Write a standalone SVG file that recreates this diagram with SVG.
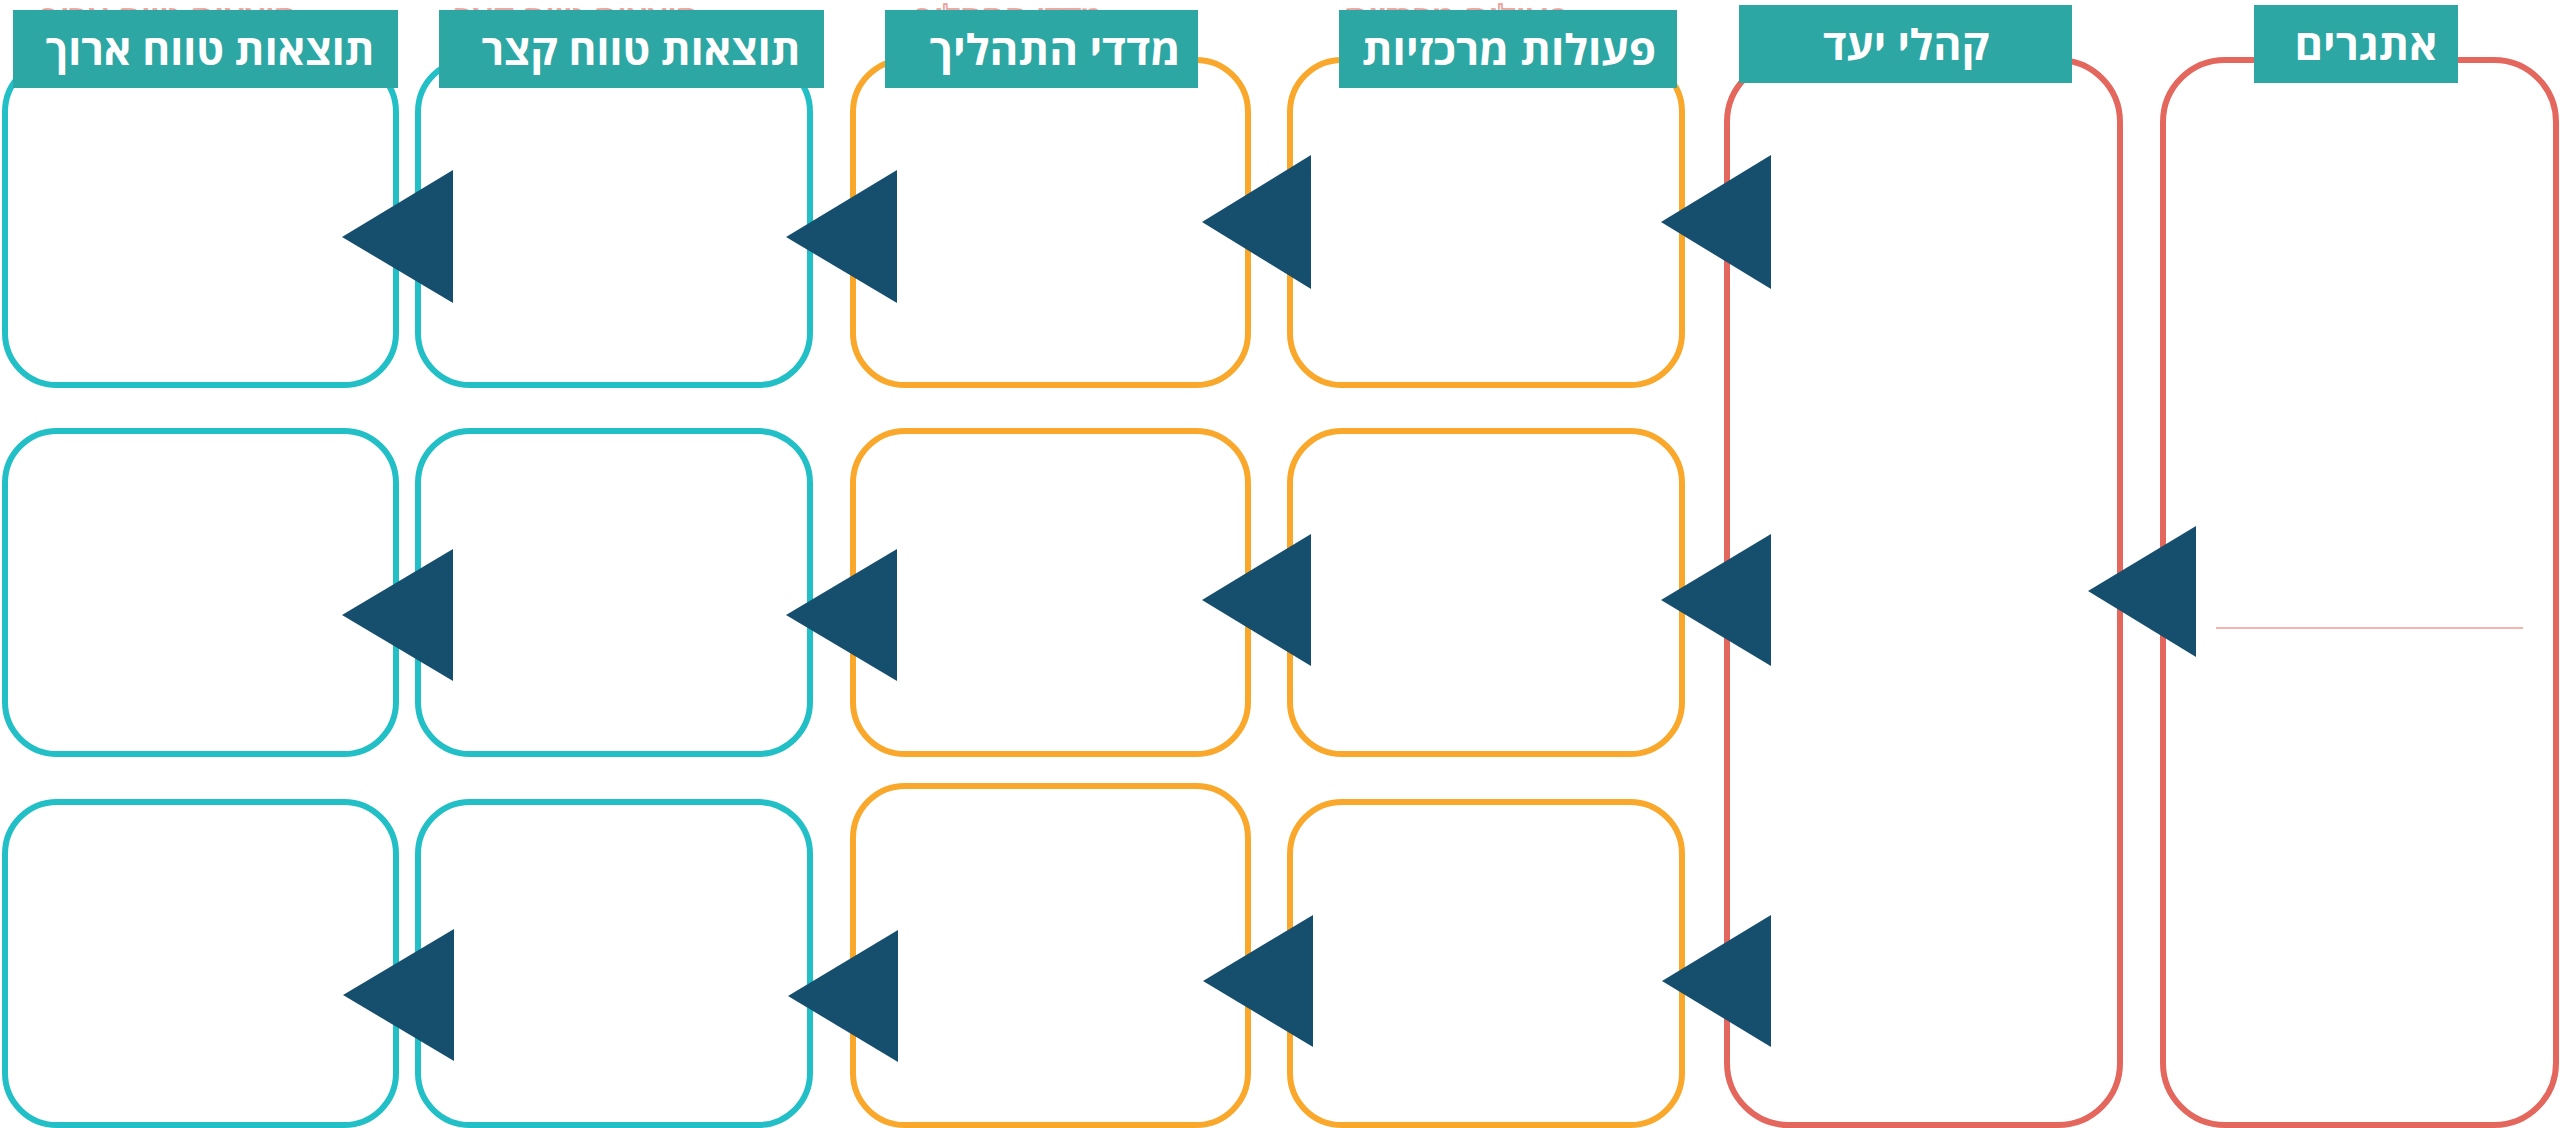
<svg xmlns="http://www.w3.org/2000/svg" width="2560" height="1128" viewBox="0 0 2560 1128">
<style>
.box{fill:#fff;stroke-width:6}
.cy{stroke:#22bfc6}
.or{stroke:#f9a82b}
.rd{stroke:#e4675e}
.hdr{fill:#2da7a4}
.ht{fill:#fff;font-family:"Open Sans","Liberation Sans","DejaVu Sans",sans-serif;font-weight:700;font-size:42px;text-anchor:middle}
.ghost{fill:none;stroke:#ec9a94;stroke-width:1.6;font-family:"Open Sans","Liberation Sans","DejaVu Sans",sans-serif;font-size:38px;text-anchor:middle}
.arr{fill:#164f6e}
</style>
<rect width="2560" height="1128" fill="#fff"/>
<g id="ghost-titles">
<text class="ghost" x="170" y="33" textLength="255" lengthAdjust="spacingAndGlyphs">תוצאות טווח ארוך</text>
<text class="ghost" x="577" y="33" textLength="244" lengthAdjust="spacingAndGlyphs">תוצאות טווח קצר</text>
<text class="ghost" x="1010" y="33" textLength="186" lengthAdjust="spacingAndGlyphs">מדדי התהליך</text>
<text class="ghost" x="1457" y="33" textLength="224" lengthAdjust="spacingAndGlyphs">פעולות מרכזיות</text>
</g>
<g id="col-long">
<rect class="box cy" x="5" y="60" width="391" height="325" rx="52"/>
<rect class="box cy" x="5" y="431" width="391" height="323" rx="52"/>
<rect class="box cy" x="5" y="802" width="391" height="323" rx="52"/>
<rect class="hdr" x="13" y="10" width="385" height="78"/>
<text class="ht" x="210" y="65" textLength="329" lengthAdjust="spacingAndGlyphs">תוצאות טווח ארוך</text>
</g>
<g id="col-short">
<rect class="box cy" x="418" y="60" width="392" height="325" rx="52"/>
<rect class="box cy" x="418" y="431" width="392" height="323" rx="52"/>
<rect class="box cy" x="418" y="802" width="392" height="323" rx="52"/>
<rect class="hdr" x="439" y="10" width="385" height="78"/>
<text class="ht" x="641" y="65" textLength="319" lengthAdjust="spacingAndGlyphs">תוצאות טווח קצר</text>
</g>
<g id="col-process">
<rect class="box or" x="853" y="60" width="395" height="325" rx="52"/>
<rect class="box or" x="853" y="431" width="395" height="323" rx="52"/>
<rect class="box or" x="853" y="786" width="395" height="339" rx="52"/>
<rect class="hdr" x="885" y="10" width="313" height="78"/>
<text class="ht" x="1055" y="65" textLength="251" lengthAdjust="spacingAndGlyphs">מדדי התהליך</text>
</g>
<g id="col-actions">
<rect class="box or" x="1290" y="60" width="392" height="325" rx="52"/>
<rect class="box or" x="1290" y="431" width="392" height="323" rx="52"/>
<rect class="box or" x="1290" y="802" width="392" height="323" rx="52"/>
<rect class="hdr" x="1339" y="10" width="338" height="78"/>
<text class="ht" x="1509" y="65" textLength="294" lengthAdjust="spacingAndGlyphs">פעולות מרכזיות</text>
</g>
<g id="col-audience">
<rect class="box rd" x="1727" y="60" width="393" height="1065" rx="62"/>
<rect class="hdr" x="1739" y="5" width="333" height="78"/>
<text class="ht" x="1906" y="60" textLength="166" lengthAdjust="spacingAndGlyphs">קהלי יעד</text>
</g>
<g id="col-challenges">
<rect class="box rd" x="2163" y="60" width="393" height="1065" rx="62"/>
<line x1="2216" y1="628" x2="2523" y2="628" stroke="#f09a94" stroke-width="1.6"/>
<rect class="hdr" x="2254" y="5" width="204" height="78"/>
<text class="ht" x="2366" y="60" textLength="143" lengthAdjust="spacingAndGlyphs">אתגרים</text>
</g>
<g id="connectors">
<polygon class="arr" points="342,237 453,170 453,303"/>
<polygon class="arr" points="786,237 897,170 897,303"/>
<polygon class="arr" points="1202,222 1311,155 1311,289"/>
<polygon class="arr" points="1661,222 1771,155 1771,289"/>
<polygon class="arr" points="342,615 453,549 453,681"/>
<polygon class="arr" points="786,615 897,549 897,681"/>
<polygon class="arr" points="1202,600 1311,534 1311,666"/>
<polygon class="arr" points="1661,600 1771,534 1771,666"/>
<polygon class="arr" points="2088,591 2196,526 2196,657"/>
<polygon class="arr" points="343,995 454,929 454,1061"/>
<polygon class="arr" points="788,996 898,930 898,1062"/>
<polygon class="arr" points="1203,981 1313,915 1313,1047"/>
<polygon class="arr" points="1662,981 1771,915 1771,1047"/>
</g>
</svg>
